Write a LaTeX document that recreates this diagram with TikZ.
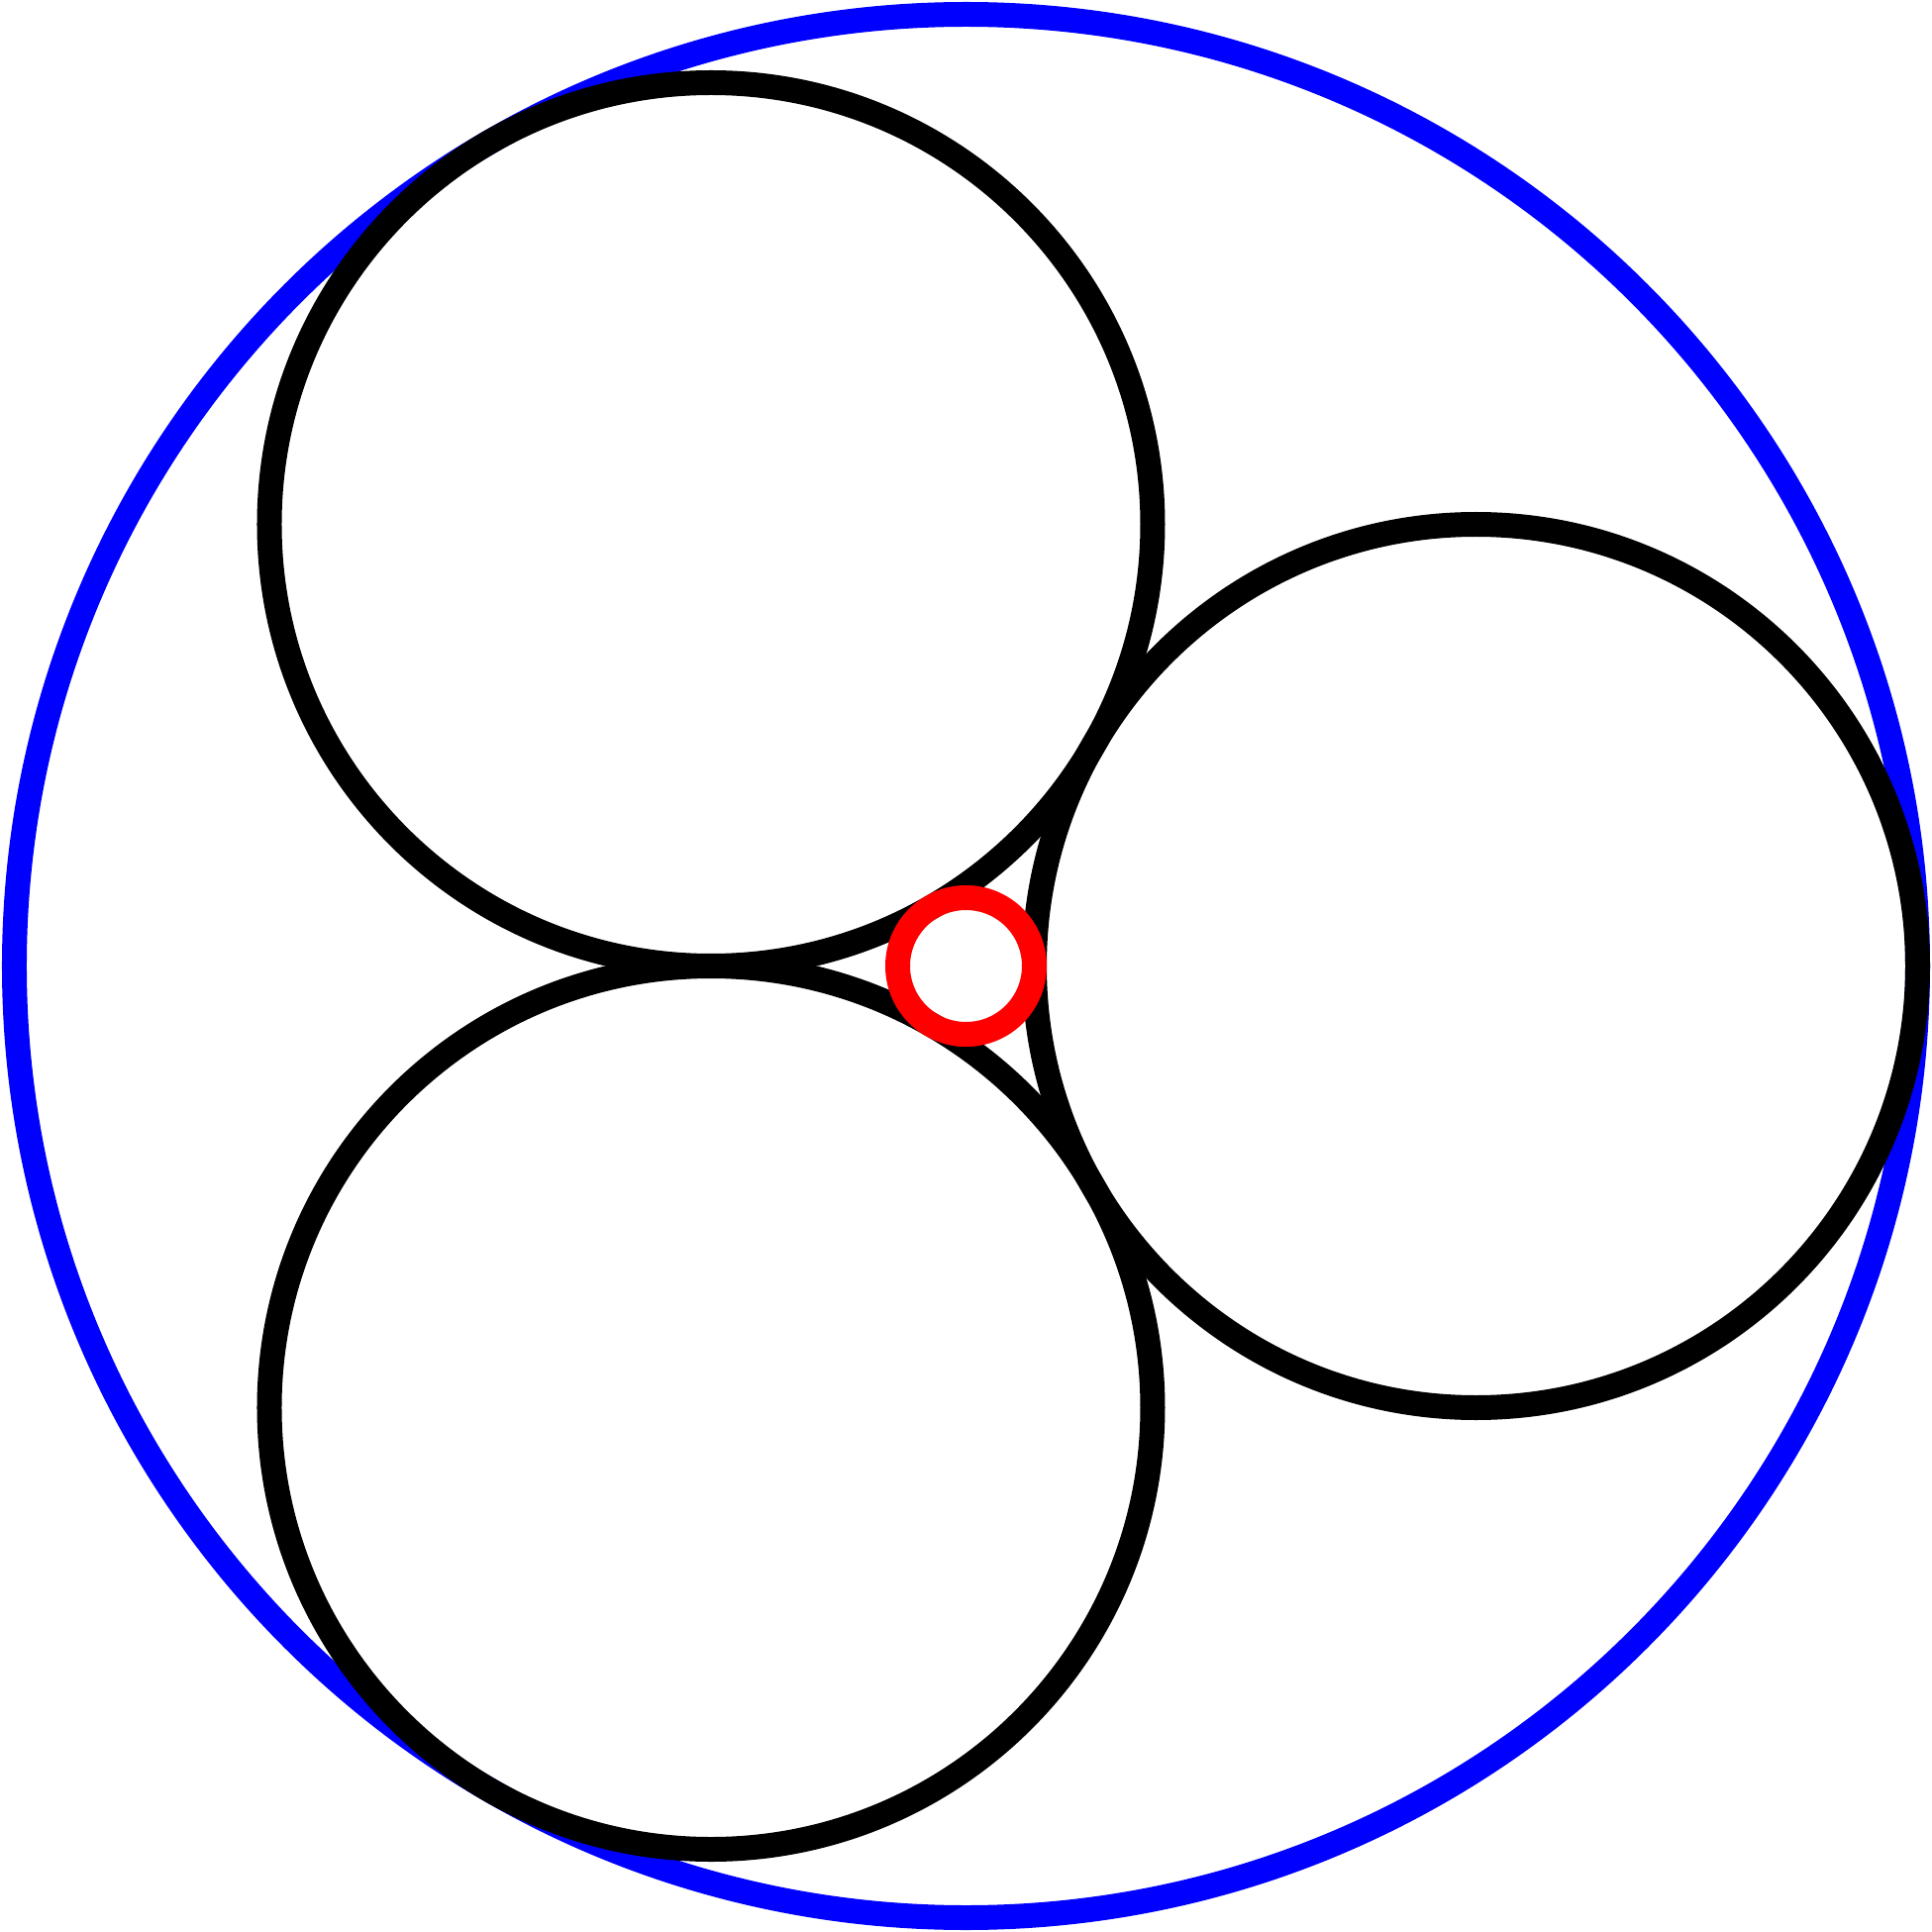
\documentclass[tikz,border=0pt]{standalone}
\usepackage{tikz}
\tikzset{outc/.style={draw=blue,line width=.25cm},ring/.style={draw=black,line width=.25cm},inc/.style={draw=red,line width=.25cm}}
\begin{document}
\begin{tikzpicture}
    \useasboundingbox (-9.755,-9.755) rectangle (9.755,9.755);
    \coordinate (O) at (0,0);
    \draw[outc] (O) circle (9.61);
    \foreach \a/\n in {0/c1,120/c2,240/c3} {
        \coordinate (\n) at (\a:5.15);
        \draw[ring] (\n) circle (4.46);
    }
    \draw[inc] (O) circle (.69);
\end{tikzpicture}
\end{document}
